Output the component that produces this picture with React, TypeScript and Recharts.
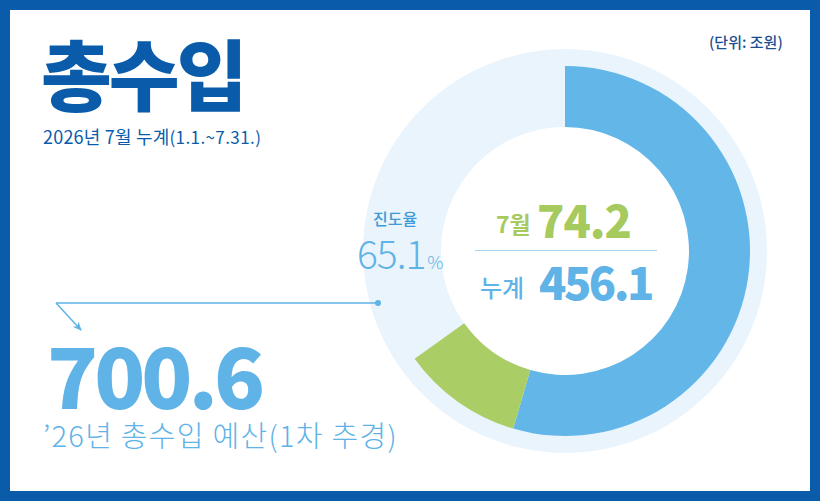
import React from 'react';
import { PieChart, Pie, Cell } from 'recharts';

// values in 조원
const budgetTotal = 700.6; // '26년 총수입 예산(1차 추경)
const cumulative = [456.1]; // 1.1.~7.31. 누계
const julyValue = [74.2];
const progressRate = [65.1];

const segmentNames = ['6월까지 누계', '7월', '잔여'];
const segmentValues = [cumulative[0] - julyValue[0], julyValue[0], budgetTotal - cumulative[0]];
const segmentColors = ['#62b6e8', '#abcd66', 'transparent'];

const ringData = segmentNames.map((name, i) => ({ name, value: segmentValues[i] }));
const backgroundData = [{ name: '예산', value: budgetTotal }];

const KR = '"Noto Sans CJK KR", "Noto Sans", sans-serif';
const NAVY = '#0a5cab';
const SKY = '#5fb3e6';
const GREEN = '#a6ca5e';

const abs = (left: number, top: number, extra: React.CSSProperties = {}): React.CSSProperties => ({
  position: 'absolute',
  left,
  top,
  lineHeight: 0.9,
  whiteSpace: 'nowrap',
  fontFamily: KR,
  margin: 0,
  ...extra,
});

export default function App() {
  return (
    <div
      style={{
        position: 'absolute',
        left: 0,
        top: 0,
        width: 820,
        height: 501,
        background: '#fff',
        overflow: 'hidden',
      }}
    >
      <PieChart width={820} height={501} margin={{ top: 0, right: 0, bottom: 0, left: 0 }} style={{ position: 'absolute', left: 0, top: 0 }}>
        <Pie
          data={backgroundData}
          dataKey="value"
          cx={565}
          cy={251}
          innerRadius={124}
          outerRadius={202}
          startAngle={90}
          endAngle={-270}
          stroke="none"
          fill="#eaf4fc"
          isAnimationActive={false}
        />
        <Pie
          data={ringData}
          dataKey="value"
          nameKey="name"
          cx={565}
          cy={251}
          innerRadius={124}
          outerRadius={185}
          startAngle={90}
          endAngle={-270}
          stroke="none"
          isAnimationActive={false}
        >
          {ringData.map((d, i) => (
            <Cell key={d.name} fill={segmentColors[i]} />
          ))}
        </Pie>
      </PieChart>

      {/* frame */}
      <div
        style={{
          position: 'absolute',
          left: 0,
          top: 0,
          width: 820,
          height: 501,
          boxSizing: 'border-box',
          border: `10px solid ${NAVY}`,
          pointerEvents: 'none',
        }}
      />

      <div style={abs(41, 37, { fontSize: 77, fontWeight: 900, color: NAVY, letterSpacing: -3 })}>총수입</div>
      <div style={abs(43, 128, { fontSize: 18, fontWeight: 400, color: NAVY, letterSpacing: 0.2 })}>
        2026년 7월 누계<span style={{ fontSize: 17, letterSpacing: 0.4 }}>(1.1.~7.31.)</span>
      </div>
      <div style={abs(709, 35, { fontSize: 15, fontWeight: 500, color: '#1d4f8f' })}>(단위: 조원)</div>

      <div style={abs(373, 211, { fontSize: 16, fontWeight: 500, color: '#3d9bd9' })}>진도율</div>
      <div style={abs(357, 235, { fontSize: 39, fontWeight: 300, color: SKY, letterSpacing: -1 })}>
        {progressRate[0].toFixed(1)}
        <span style={{ fontSize: 18, marginLeft: 2 }}>%</span>
      </div>

      <div style={abs(496, 213, { fontSize: 23, fontWeight: 700, color: GREEN })}>7월</div>
      <div style={abs(537, 199, { fontSize: 45, fontWeight: 900, color: GREEN, letterSpacing: -1 })}>{julyValue[0].toFixed(1)}</div>
      <div style={{ position: 'absolute', left: 475, top: 250, width: 182, height: 1, background: '#a9d5f2' }} />
      <div style={abs(480, 276, { fontSize: 24, fontWeight: 500, color: SKY })}>누계</div>
      <div style={abs(539, 261, { fontSize: 45, fontWeight: 900, color: SKY, letterSpacing: -2.5 })}>{cumulative[0].toFixed(1)}</div>

      <svg width={820} height={501} style={{ position: 'absolute', left: 0, top: 0 }}>
        <defs>
          <marker id="arr" markerWidth="10" markerHeight="10" refX="8" refY="5" orient="auto" markerUnits="userSpaceOnUse">
            <path d="M0,1 L9,5 L0,9 L3,5 Z" fill={SKY} />
          </marker>
        </defs>
        <line x1={56} y1={303} x2={378} y2={303} stroke={SKY} strokeWidth={1.5} />
        <line x1={56} y1={303} x2={81} y2={330} stroke={SKY} strokeWidth={1.5} markerEnd="url(#arr)" />
        <circle cx={378} cy={303} r={3} fill={SKY} />
      </svg>

      <div style={abs(47, 335, { fontSize: 84, fontWeight: 900, color: SKY, letterSpacing: -4 })}>{budgetTotal.toFixed(1)}</div>
      <div style={abs(43, 421, { fontSize: 29, fontWeight: 300, color: SKY, letterSpacing: 1.3 })}>’26년 총수입 예산(1차 추경)</div>
    </div>
  );
}
